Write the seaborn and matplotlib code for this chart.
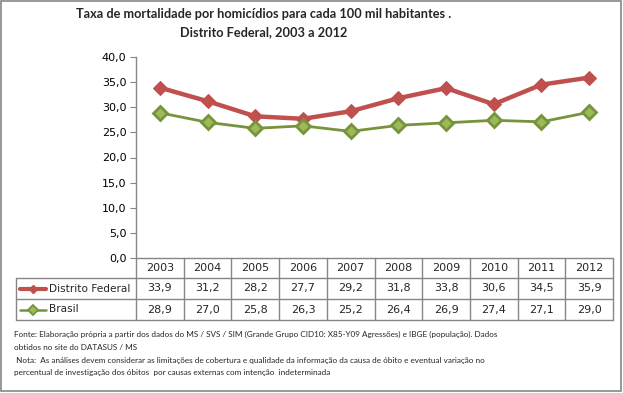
import matplotlib
matplotlib.use("Agg")
import matplotlib.pyplot as plt
import seaborn as sns
import pandas as pd
from matplotlib.lines import Line2D
from matplotlib.patches import Rectangle

years = ["2003", "2004", "2005", "2006", "2007", "2008", "2009", "2010", "2011", "2012"]
df_vals = [33.9, 31.2, 28.2, 27.7, 29.2, 31.8, 33.8, 30.6, 34.5, 35.9]
br_vals = [28.9, 27.0, 25.8, 26.3, 25.2, 26.4, 26.9, 27.4, 27.1, 29.0]
series_names = ["Distrito Federal", "Brasil"]
title = "Taxa de mortalidade por homicídios para cada 100 mil habitantes .\nDistrito Federal, 2003 a 2012"
yticks = [0, 5, 10, 15, 20, 25, 30, 35, 40]
note_lines = [
    "Fonte: Elaboração própria a partir dos dados do MS / SVS / SIM (Grande Grupo CID10: X85-Y09 Agressões) e IBGE (população). Dados",
    "obtidos no site do DATASUS / MS",
    " Nota:  As análises devem considerar as limitações de cobertura e qualidade da informação da causa de óbito e eventual variação no",
    "percentual de investigação dos óbitos  por causas externas com intenção  indeterminada",
]

sns.set_style("white")
plt.rcParams['font.family'] = ['DejaVu Sans']

W, H = 623, 393
fig = plt.figure(figsize=(W / 100, H / 100), dpi=100)

def fx(px):
    return px / W

def fy(py):
    return 1 - py / H

left, right, top, bottom = 136, 613, 57, 258
ax = fig.add_axes([fx(left), fy(bottom), fx(right - left), fy(top) - fy(bottom)])

data = pd.DataFrame({"x": list(range(len(years))), "DF": df_vals, "BR": br_vals})
red = "#C0504D"
green_line = "#77933C"
green_face = "#9BBB59"

sns.lineplot(data=data, x="x", y="DF", ax=ax, color=red, lw=3.2, marker="D",
             markersize=7, markeredgecolor=red, markerfacecolor=red, zorder=3)
sns.lineplot(data=data, x="x", y="BR", ax=ax, color=green_line, lw=2, marker="D",
             markersize=7, markeredgecolor=green_line, markerfacecolor=green_face,
             markeredgewidth=2, zorder=3)

ax.set_xlim(-0.5, len(years) - 0.5)
ax.set_ylim(0, 40)
ax.set_yticks(yticks)
ax.set_yticklabels([f"{v:.1f}".replace(".", ",") for v in yticks], fontsize=8)
ax.set_xticks([])
ax.set_xlabel("")
ax.set_ylabel("")
for s in ["top", "right", "bottom"]:
    ax.spines[s].set_visible(False)
ax.spines["left"].set_color("#868686")
ax.spines["left"].set_linewidth(1)
ax.tick_params(axis="y", which="major", direction="out", length=4, color="#868686",
               left=True, pad=3, labelcolor="black")

gray = "#868686"
tleft = 16
col_w = (right - left) / len(years)

def hline(y, x0, x1):
    fig.add_artist(Line2D([fx(x0), fx(x1)], [fy(y), fy(y)], color=gray, lw=1))

def vline(x, y0, y1):
    fig.add_artist(Line2D([fx(x), fx(x)], [fy(y0), fy(y1)], color=gray, lw=1))

hline(258, left, right)
hline(278, tleft, right)
hline(299, tleft, right)
hline(320, tleft, right)
vline(tleft, 278, 320)
for i in range(len(years) + 1):
    vline(left + i * col_w, 258, 320)

for i, yv in enumerate(years):
    cx = left + (i + 0.5) * col_w
    fig.text(fx(cx), fy(268), yv, ha="center", va="center", fontsize=8)
    fig.text(fx(cx), fy(288.5), f"{df_vals[i]:.1f}".replace(".", ","), ha="center", va="center", fontsize=8)
    fig.text(fx(cx), fy(309.5), f"{br_vals[i]:.1f}".replace(".", ","), ha="center", va="center", fontsize=8)

# legend keys in table
fig.add_artist(Line2D([fx(20), fx(46)], [fy(288.5), fy(288.5)], color=red, lw=3))
fig.add_artist(Line2D([fx(33)], [fy(288.5)], color=red, marker="D", markersize=4.5, markeredgecolor=red))
fig.add_artist(Line2D([fx(20), fx(46)], [fy(309.5), fy(309.5)], color=green_line, lw=1.8))
fig.add_artist(Line2D([fx(33)], [fy(309.5)], color=green_line, marker="D", markersize=5,
                      markerfacecolor=green_face, markeredgecolor=green_line, markeredgewidth=1.3))
fig.text(fx(49), fy(288.5), series_names[0], ha="left", va="center", fontsize=7.6)
fig.text(fx(49), fy(309.5), series_names[1], ha="left", va="center", fontsize=7.6)

# title
fig.text(fx(264), fy(23), title, ha="center", va="center", multialignment="center",
         fontsize=9.2, fontweight="bold", family=["Lato", "DejaVu Sans"], linespacing=1.6)

# note
for yc, line in zip([334, 347, 360, 372], note_lines):
    fig.text(fx(14), fy(yc), line, ha="left", va="center", fontsize=5.9,
             family=["Lato", "DejaVu Sans"])

# outer frame
fig.add_artist(Rectangle((fx(1), fy(391)), fx(620), fy(1) - fy(391), fill=False, edgecolor=gray, lw=1.2))

fig.savefig("out.png", dpi=100)
